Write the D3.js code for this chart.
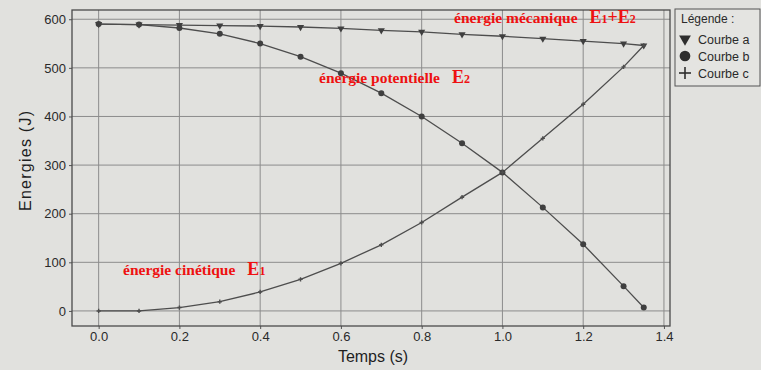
<!DOCTYPE html>
<html>
<head>
<meta charset="utf-8">
<script src="https://d3js.org/d3.v7.min.js"></script>
<style>
  body { margin: 0; background: #e1e1de; }
  svg { display: block; }
  .tick text { font-family: "Liberation Sans", Arial, sans-serif; font-size: 13px; fill: #2a2a2a; }
</style>
</head>
<body>
<svg id="chart" width="761" height="370"></svg>
<script>
// data
const temps   = [0.0, 0.1, 0.2, 0.3, 0.4, 0.5, 0.6, 0.7, 0.8, 0.9, 1.0, 1.1, 1.2, 1.3, 1.35];
const courbeA = [590, 589, 588, 587, 586, 584, 581, 577, 574, 569, 565, 560, 555, 550, 546]; // énergie mécanique
const courbeB = [590, 589, 582, 570, 550, 523, 489, 448, 400, 345, 285, 213, 137, 51, 7];     // énergie potentielle
const courbeC = [0, 0, 7, 19, 39, 65, 98, 136, 182, 234, 285, 355, 425, 502, 546];            // énergie cinétique
const xTicks = [0.0, 0.2, 0.4, 0.6, 0.8, 1.0, 1.2, 1.4];
const yTicks = [0, 100, 200, 300, 400, 500, 600];
const legendLabels = ["Courbe a", "Courbe b", "Courbe c"];

const svg = d3.select("#chart");
const margin = {top: 10, right: 91, bottom: 44, left: 72};
const width = 761 - margin.left - margin.right,
      height = 370 - margin.top - margin.bottom;
const g = svg.append("g").attr("transform", `translate(${margin.left},${margin.top})`);

const x = d3.scaleLinear().domain([-0.066, 1.415]).range([0, width]);
const y = d3.scaleLinear().domain([-31, 619]).range([height, 0]);

// grid
g.append("g").selectAll("line").data(xTicks).join("line")
  .attr("x1", d => x(d)).attr("x2", d => x(d)).attr("y1", 0).attr("y2", height)
  .attr("stroke", "#8c8c8c").attr("stroke-width", 1);
g.append("g").selectAll("line").data(yTicks).join("line")
  .attr("y1", d => y(d)).attr("y2", d => y(d)).attr("x1", 0).attr("x2", width)
  .attr("stroke", "#8c8c8c").attr("stroke-width", 1);

// axes
const xAxis = g.append("g").attr("transform", `translate(0,${height})`)
  .call(d3.axisBottom(x).tickValues(xTicks).tickFormat(d3.format(".1f")).tickSize(3).tickPadding(3));
const yAxis = g.append("g")
  .call(d3.axisLeft(y).tickValues(yTicks).tickSize(3).tickPadding(3));
[xAxis, yAxis].forEach(a => {
  a.select(".domain").remove();
  a.selectAll(".tick line").attr("stroke", "#555");
});

// frame
g.append("rect").attr("width", width).attr("height", height)
  .attr("fill", "none").attr("stroke", "#4a4a4a").attr("stroke-width", 1.3);

const line = d3.line().x((d, i) => x(temps[i])).y(d => y(d));
const series = [courbeC, courbeB, courbeA];
series.forEach(s => {
  g.append("path").datum(s).attr("d", line)
    .attr("fill", "none").attr("stroke", "#4d4d4d").attr("stroke-width", 1.3);
});

// markers
const tri = d3.symbol().type(d3.symbolTriangle).size(22);
g.append("g").selectAll("path").data(courbeA).join("path")
  .attr("d", tri)
  .attr("transform", (d, i) => `translate(${x(temps[i])},${y(d)}) rotate(180)`)
  .attr("fill", "#3f3f3f");
g.append("g").selectAll("circle").data(courbeB).join("circle")
  .attr("cx", (d, i) => x(temps[i])).attr("cy", d => y(d)).attr("r", 3)
  .attr("fill", "#3f3f3f");
g.append("g").selectAll("path").data(courbeC).join("path")
  .attr("d", d3.symbol().type(d3.symbolCross).size(10))
  .attr("transform", (d, i) => `translate(${x(temps[i])},${y(d)})`)
  .attr("fill", "#4d4d4d");

// axis titles
svg.append("text").attr("transform", "translate(31,161) rotate(-90)")
  .attr("text-anchor", "middle")
  .style("font-family", "Liberation Sans, Arial, sans-serif").style("font-size", "16px").attr("fill", "#1e1e1e")
  .attr("textLength", 100)
  .text("Energies (J)");
svg.append("text").attr("x", 373).attr("y", 362)
  .attr("text-anchor", "middle")
  .style("font-family", "Liberation Sans, Arial, sans-serif").style("font-size", "16px").attr("fill", "#1e1e1e")
  .text("Temps (s)");

// legend
const lg = svg.append("g").attr("transform", "translate(675,9)");
lg.append("rect").attr("width", 85).attr("height", 77)
  .attr("fill", "#e4e4e1").attr("stroke", "#555").attr("stroke-width", 1);
lg.append("text").attr("x", 6).attr("y", 14)
  .style("font-family", "Liberation Sans, Arial, sans-serif").style("font-size", "12px").attr("fill", "#2a2a2a")
  .text("Légende :");
const symbols = [
  d3.symbol().type(d3.symbolTriangle).size(60)(),
  d3.symbol().type(d3.symbolCircle).size(90)(),
  null
];
legendLabels.forEach((lab, i) => {
  const cy = 30 + i * 17;
  if (i === 0) {
    lg.append("path").attr("d", symbols[0]).attr("transform", `translate(10,${cy}) rotate(180)`).attr("fill", "#2e2e2e");
  } else if (i === 1) {
    lg.append("path").attr("d", symbols[1]).attr("transform", `translate(10,${cy})`).attr("fill", "#2e2e2e");
  } else {
    lg.append("line").attr("x1", 4).attr("x2", 16).attr("y1", cy).attr("y2", cy).attr("stroke", "#2e2e2e").attr("stroke-width", 1.6);
    lg.append("line").attr("x1", 10).attr("x2", 10).attr("y1", cy - 6).attr("y2", cy + 6).attr("stroke", "#2e2e2e").attr("stroke-width", 1.6);
  }
  lg.append("text").attr("x", 23).attr("y", cy + 4.5)
    .style("font-family", "Liberation Sans, Arial, sans-serif").style("font-size", "12.5px").attr("fill", "#2a2a2a")
    .text(lab);
});

// red annotations
function annot(xp, yp, label, sub1, sub2) {
  const t = svg.append("text").attr("x", xp).attr("y", yp)
    .style("font-family", "Liberation Serif, 'Times New Roman', serif").style("font-weight", "bold")
    .style("font-size", "15.5px").attr("fill", "#ee1111");
  t.append("tspan").text(label);
  t.append("tspan").attr("dx", 12).style("font-size", "18px").text("E");
  t.append("tspan").style("font-size", "12px").text(sub1);
  if (sub2) {
    t.append("tspan").style("font-size", "18px").text("+E");
    t.append("tspan").style("font-size", "12px").text(sub2);
  }
}
annot(454, 23, "énergie mécanique", "1", "2");
annot(319, 83, "énergie potentielle", "2");
annot(123, 275, "énergie cinétique", "1");
</script>
</body>
</html>
